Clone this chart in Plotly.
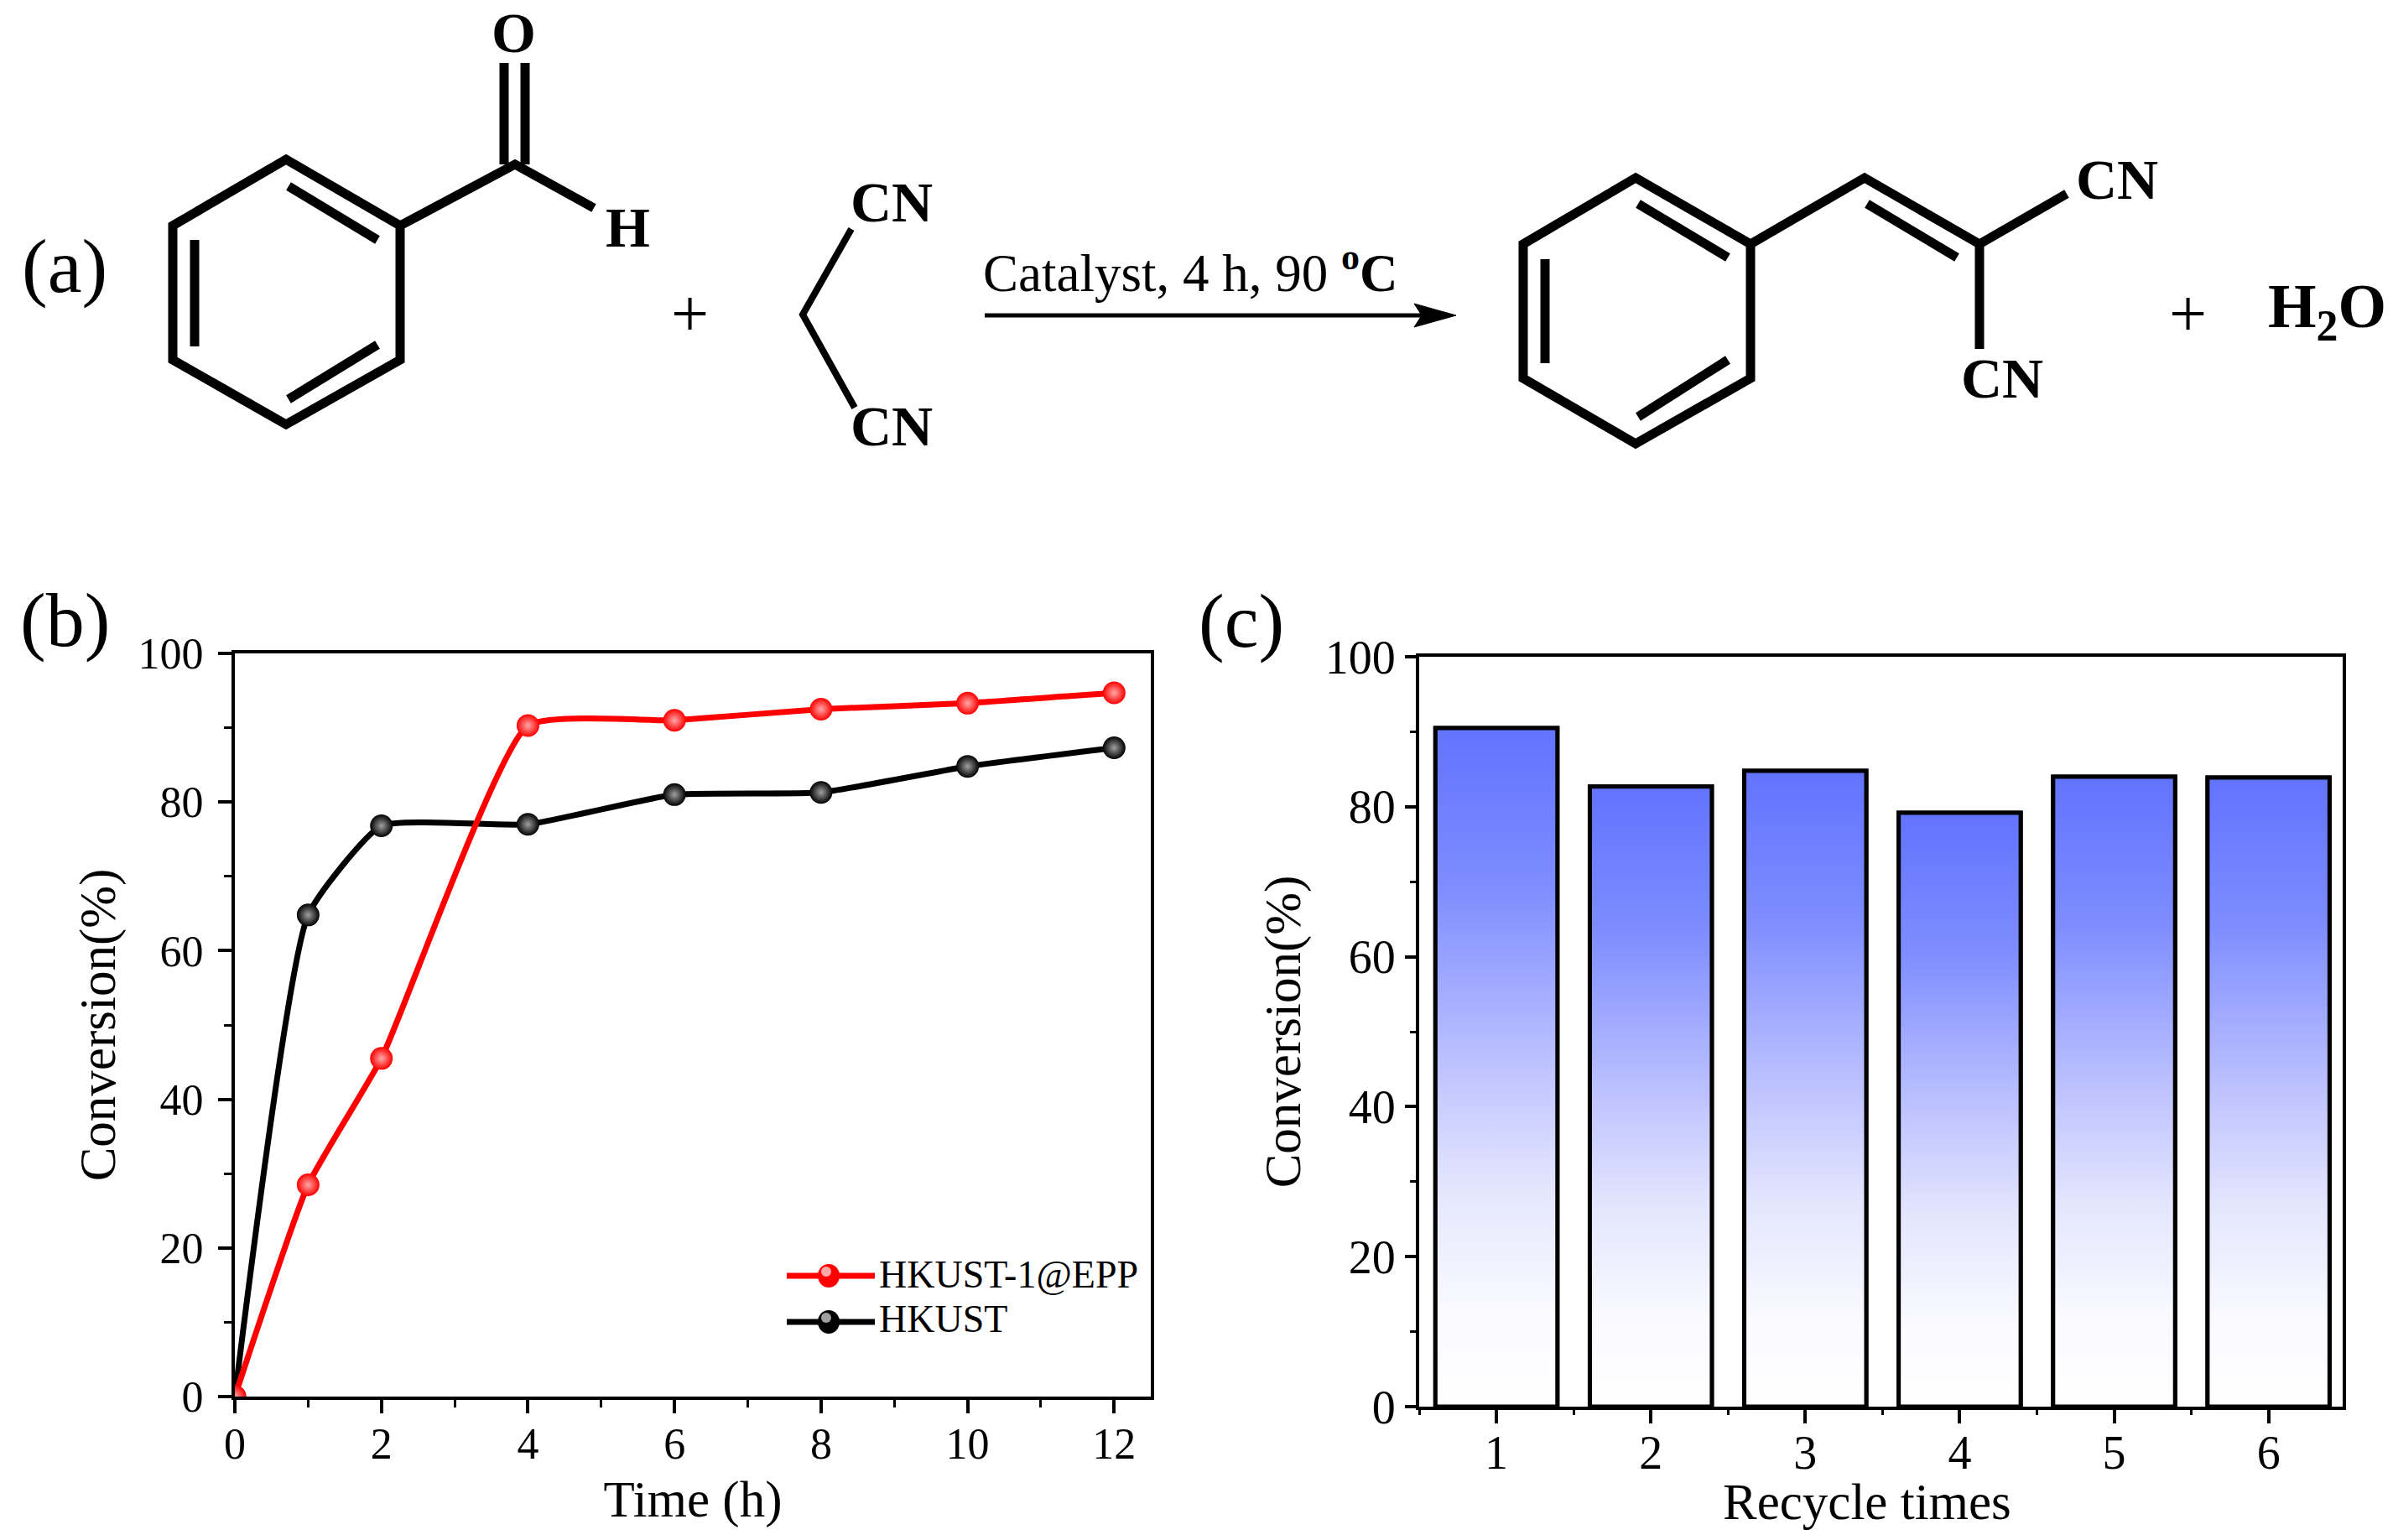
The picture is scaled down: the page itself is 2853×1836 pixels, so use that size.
import plotly.graph_objects as go

W, H = 2853, 1836
PAGE_MARGIN = 8  # the browser body margin in the written page
FONT = "Liberation Serif"

# panel (b)
time_h = [0, 1, 2, 4, 6, 8, 10, 12]
conv_epp = [0, 28.5, 45.5, 90.3, 91.0, 92.5, 93.3, 94.7]
conv_hkust = [0, 64.8, 76.8, 77.0, 81.0, 81.3, 84.8, 87.3]
name_epp = "HKUST-1@EPP"
name_hkust = "HKUST"

# panel (c)
recycle = [1, 2, 3, 4, 5, 6]
conv_recycle = [90.5, 82.7, 84.8, 79.2, 84.0, 83.9]
bar_width = 0.79

# scheme (a), pixel positions on the page
rings = [
    [(341, 190), (477, 269), (477, 429), (341, 506), (206, 429), (206, 269)],
    [(1950, 212), (2087, 291), (2087, 451), (1950, 529), (1816, 451), (1816, 291)],
]
thick_bonds = [
    [(344, 222), (450, 286)], [(232, 286), (232, 413)], [(344, 476), (450, 411)],
    [(477, 269), (614, 196), (708, 248)],
    [(601, 196), (601, 75)], [(626, 196), (626, 75)],
    [(1953, 243), (2060, 307)], [(1842, 309), (1842, 433)], [(1953, 497), (2060, 429)],
    [(2087, 291), (2223, 212), (2360, 291), (2464, 231)],
    [(2226, 243), (2333, 307)], [(2360, 291), (2360, 416)],
]
thin_bonds = [[(1015, 273), (957, 375), (1019, 486)]]
scheme_labels = [
    ("O", 612, 39, 68, True), ("H", 748, 271, 68, True),
    ("CN", 1063, 241, 68, True), ("CN", 1063, 508, 68, True),
    ("CN", 2524, 214, 68, True), ("CN", 2387, 451, 68, True),
    ("+", 823, 374, 80, False), ("+", 2608, 374, 80, False),
    ("H<sub>2</sub>O", 2774, 371, 74, True),
    ("Catalyst, 4 h, 90 <sup><b>o</b></sup><b>C</b>", 1419, 321, 63, False),
    ("(a)", 77, 317, 92, False), ("(b)", 77, 739, 92, False), ("(c)", 1480, 740, 92, False),
]


def X(p):
    return (p - PAGE_MARGIN) / (W - 2 * PAGE_MARGIN)


def Y(p):
    return 1 - (p - PAGE_MARGIN) / (H - 2 * PAGE_MARGIN)


def path(points, close=False):
    d = "M " + " L ".join(f"{X(x):.5f},{Y(y):.5f}" for x, y in points)
    return d + (" Z" if close else "")


fig = go.Figure()

# black goes first so the red curve sits on top where they cross
for name, values, color, center in [
    (name_hkust, conv_hkust, "#000000", "#a0a0a0"),
    (name_epp, conv_epp, "#ff0000", "#ffa8a8"),
]:
    fig.add_trace(go.Scatter(
        x=time_h, y=values, name=name, mode="lines+markers", showlegend=False,
        line=dict(color=color, width=7, shape="spline", smoothing=0.45),
        marker=dict(size=27, color=color, line_width=0,
                    gradient=dict(type="radial", color=center)),
        xaxis="x", yaxis="y",
    ))

fig.add_trace(go.Bar(
    x=recycle, y=conv_recycle, width=bar_width, showlegend=False,
    marker=dict(color="rgba(0,0,0,0)", line=dict(color="#000000", width=5)),
    xaxis="x2", yaxis="y2",
))
# bars have no gradient fill; scatter layers draw above bars, so these carry the outline too
scale = [[0, "rgb(255,255,255)"], [0.136, "rgb(250,250,255)"], [0.32, "rgb(228,230,253)"],
         [0.5, "rgb(190,195,255)"], [0.77, "rgb(125,140,255)"], [1, "rgb(98,115,255)"]]
for cat, val in zip(recycle, conv_recycle):
    left, right = cat - bar_width / 2, cat + bar_width / 2
    fig.add_trace(go.Scatter(
        x=[left, right, right, left, left], y=[0, 0, val, val, 0],
        mode="lines", line=dict(color="#000000", width=5), fill="toself",
        showlegend=False, hoverinfo="skip",
        fillgradient=dict(type="vertical", colorscale=scale, start=0, stop=val),
        xaxis="x2", yaxis="y2",
    ))

for ring in rings:
    fig.add_shape(type="path", path=path(ring, close=True), xref="paper", yref="paper",
                  line=dict(color="black", width=11))
for bond in thick_bonds:
    fig.add_shape(type="path", path=path(bond), xref="paper", yref="paper",
                  line=dict(color="black", width=11))
for bond in thin_bonds:
    fig.add_shape(type="path", path=path(bond), xref="paper", yref="paper",
                  line=dict(color="black", width=8))

# reaction arrow
fig.add_shape(type="path", path=path([(1174, 376), (1700, 376)]), xref="paper", yref="paper",
              line=dict(color="black", width=5))
fig.add_shape(type="path", path=path([(1686, 362), (1736, 376), (1686, 390), (1695, 376)], close=True),
              xref="paper", yref="paper", fillcolor="black", line=dict(color="black", width=1))

for text, x, y, size, bold in scheme_labels:
    fig.add_annotation(
        text=f"<b>{text}</b>" if bold else text, x=X(x), y=Y(y), xref="paper", yref="paper",
        showarrow=False, xanchor="center", yanchor="middle",
        font=dict(family=FONT, size=size, color="black"),
    )

# legend of panel (b), laid out by hand to keep its tight row spacing
for name, color, center, row_y, text_y in [
    (name_epp, "#ff0000", "#ffa8a8", 1521, 1519),
    (name_hkust, "#000000", "#a0a0a0", 1576, 1572),
]:
    fig.add_shape(type="line", x0=X(938), x1=X(1043), y0=Y(row_y), y1=Y(row_y),
                  xref="paper", yref="paper", line=dict(color=color, width=7))
    fig.add_shape(type="circle", x0=X(975), x1=X(1001), y0=Y(row_y - 14), y1=Y(row_y + 14),
                  xref="paper", yref="paper", fillcolor=color, line_width=0)
    fig.add_shape(type="circle", x0=X(979), x1=X(991), y0=Y(row_y - 11), y1=Y(row_y + 1),
                  xref="paper", yref="paper", fillcolor=center, line_width=0)
    fig.add_annotation(text=name, x=X(1046), y=Y(text_y), xref="paper", yref="paper",
                       showarrow=False, xanchor="left", yanchor="middle",
                       font=dict(family=FONT, size=46, color="black"))

# panel (c) x title sits a little left of the axis centre
fig.add_annotation(text="Recycle times", x=X(2226), y=Y(1790), xref="paper", yref="paper",
                   showarrow=False, xanchor="center", yanchor="middle",
                   font=dict(family=FONT, size=61, color="black"))

axis_style = dict(
    showline=True, linecolor="black", linewidth=4, mirror=True, showgrid=False, zeroline=False,
    ticks="outside", tickwidth=4, tickcolor="black",
)
font_b = dict(family=FONT, size=52, color="black")
font_c = dict(family=FONT, size=56, color="black")
title_font = dict(family=FONT, size=61, color="black")


def minor(dtick, length):
    return dict(dtick=dtick, ticks="outside", ticklen=length, tickwidth=3, tickcolor="black", showgrid=False)


fig.update_layout(
    width=W - 2 * PAGE_MARGIN, height=H - 2 * PAGE_MARGIN,
    margin=dict(l=0, r=0, t=0, b=0, autoexpand=False),
    plot_bgcolor="white", paper_bgcolor="white", barmode="overlay", showlegend=False,
    xaxis=dict(domain=[X(280), X(1372)], range=[0, 12.5], tickmode="array",
               tickvals=[0, 2, 4, 6, 8, 10, 12], minor=minor(1, 9), ticklen=16, ticklabelstandoff=-8,
               tickfont=font_b, title=dict(text="Time (h)", font=title_font, standoff=17),
               anchor="y", **axis_style),
    yaxis=dict(domain=[Y(1665), Y(779)], range=[0, 100], dtick=20, minor=minor(10, 9), ticklen=16,
               ticklabelstandoff=7, tickfont=font_b,
               title=dict(text="Conversion(%)", font=title_font, standoff=8), anchor="x", **axis_style),
    xaxis2=dict(domain=[X(1692), X(2793)], range=[0.5, 6.48], dtick=1, minor=minor(0.5, 6), ticklen=16,
                ticklabelstandoff=-13, tickfont=font_c, anchor="y2", **axis_style),
    yaxis2=dict(domain=[Y(1677), Y(783)], range=[0, 100], dtick=20, minor=minor(10, 7), ticklen=13,
                tickfont=font_c,
                title=dict(text="Conversion(%)", font=title_font, standoff=10), anchor="x2", **axis_style),
)

fig.write_html("out.html")
